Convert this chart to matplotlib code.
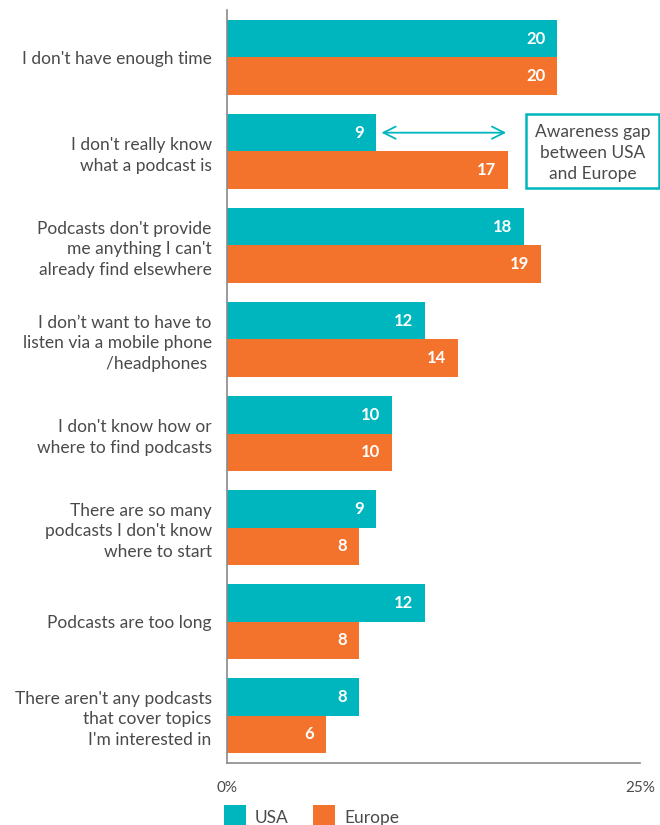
import matplotlib
matplotlib.use("Agg")
import matplotlib.pyplot as plt
import numpy as np
from matplotlib.patches import Rectangle

categories = [
    "I don't have enough time",
    "I don't really know\nwhat a podcast is",
    "Podcasts don't provide\nme anything I can't\nalready find elsewhere",
    "I don\u2019t want to have to\nlisten via a mobile phone\n/headphones ",
    "I don't know how or\nwhere to find podcasts",
    "There are so many\npodcasts I don't know\nwhere to start",
    "Podcasts are too long",
    "There aren't any podcasts\nthat cover topics\nI'm interested in",
]
usa = [20, 9, 18, 12, 10, 9, 12, 8]
europe = [20, 17, 19, 14, 10, 8, 8, 6]
series_names = ["USA", "Europe"]
xtick_values = [0, 25]
xtick_labels = ["0%", "25%"]
annotation_text = "Awareness gap\nbetween USA\nand Europe"

TEAL = "#00B6BE"
ORANGE = "#F3732D"
TEXT = "#4a4a4a"
AXIS = "#8a8a8a"

plt.rcParams['font.family'] = ['Lato', 'DejaVu Sans']

W, H = 660, 825
fig = plt.figure(figsize=(W / 100, H / 100), dpi=100)
ax = fig.add_axes([227 / W, (H - 763) / H, (640 - 227) / W, (763 - 10) / H])

y = np.arange(len(categories))
bh = 0.4
ax.barh(y - bh / 2, usa, height=bh, color=TEAL, linewidth=0)
ax.barh(y + bh / 2, europe, height=bh, color=ORANGE, linewidth=0)

ax.set_xlim(0, 25)
ax.set_ylim(7.505, -0.505)

for i, (u, e) in enumerate(zip(usa, europe)):
    ax.annotate(str(u), (u, i - bh / 2), xytext=(-8.5, 0), textcoords='offset points',
                ha='right', va='center', color='white', fontsize=12, fontweight='bold')
    ax.annotate(str(e), (e, i + bh / 2), xytext=(-8.5, 0), textcoords='offset points',
                ha='right', va='center', color='white', fontsize=12, fontweight='bold')

ax.set_yticks(y)
ax.set_yticklabels(categories, fontsize=12.5, color=TEXT, linespacing=1.38)
ax.tick_params(axis='y', length=0, pad=11)
ax.set_xticks(xtick_values)
ax.set_xticklabels(xtick_labels, fontsize=11, color=TEXT)
ax.tick_params(axis='x', length=0, pad=13)

for s in ['top', 'right']:
    ax.spines[s].set_visible(False)
for s in ['left', 'bottom']:
    ax.spines[s].set_color(AXIS)
    ax.spines[s].set_linewidth(1.2)

# gap arrow between USA and Europe for second category
ax.annotate("", xy=(usa[1] + 0.35, 1 - bh / 2), xytext=(europe[1] - 0.1, 1 - bh / 2),
            arrowprops=dict(arrowstyle="<->", color=TEAL, lw=1.3,
                            mutation_scale=22, shrinkA=0, shrinkB=0))

# annotation box
fig.patches.append(Rectangle((526 / W, 1 - 188 / H), (659 - 526) / W, (188 - 114) / H,
                             transform=fig.transFigure, fill=False, edgecolor=TEAL,
                             linewidth=1.8))
fig.text(593 / W, 1 - 153 / H, annotation_text, ha='center', va='center',
         fontsize=12.5, color=TEXT, linespacing=1.38)

# legend
for x0, name, col in [(224, series_names[0], TEAL), (313, series_names[1], ORANGE)]:
    fig.patches.append(Rectangle((x0 / W, 1 - 835 / H), 22 / W, 30 / H,
                                 transform=fig.transFigure, color=col, linewidth=0))
    fig.text((x0 + 31) / W, 1 - 818 / H, name, ha='left', va='center',
             fontsize=12.5, color=TEXT)

fig.savefig("out.png", dpi=100)
